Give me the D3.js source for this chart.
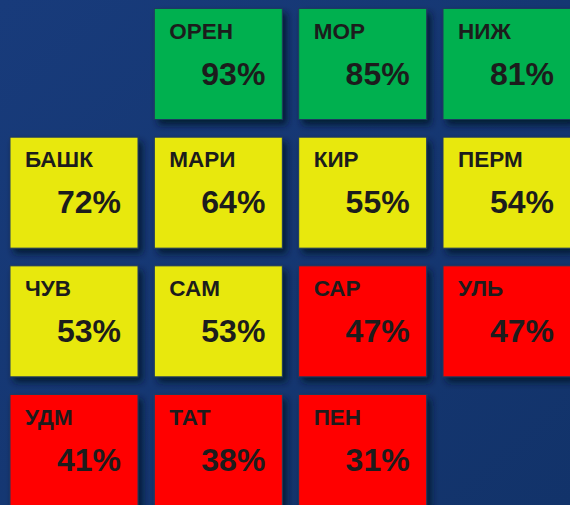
<!DOCTYPE html>
<html>
<head>
<meta charset="utf-8">
<script src="https://cdn.jsdelivr.net/npm/d3@7"></script>
<style>
  html, body { margin: 0; padding: 0; background: #163874; }
  svg { display: block; }
</style>
</head>
<body>
<svg id="chart" width="570" height="505"></svg>
<script>
// Data
const regions = ["ОРЕН", "МОР", "НИЖ", "БАШК", "МАРИ", "КИР", "ПЕРМ", "ЧУВ", "САМ", "САР", "УЛЬ", "УДМ", "ТАТ", "ПЕН"];
const values  = [93, 85, 81, 72, 64, 55, 54, 53, 53, 47, 47, 41, 38, 31];
const cols    = [1, 2, 3, 0, 1, 2, 3, 0, 1, 2, 3, 0, 1, 2];
const rows    = [0, 0, 0, 1, 1, 1, 1, 2, 2, 2, 2, 3, 3, 3];
const thresholds = [50, 80];
const palette = ["#ff0000", "#e8e80a", "#00b050"];

const W = 570, H = 505;
const svg = d3.select("#chart");

const defs = svg.append("defs");
const grad = defs.append("linearGradient").attr("id", "bg")
  .attr("x1", "0%").attr("y1", "0%").attr("x2", "100%").attr("y2", "100%");
grad.append("stop").attr("offset", "0%").attr("stop-color", "#183b7b");
grad.append("stop").attr("offset", "100%").attr("stop-color", "#12336a");

const f = defs.append("filter").attr("id", "shadow")
  .attr("x", "-20%").attr("y", "-20%").attr("width", "150%").attr("height", "150%");
f.append("feDropShadow").attr("dx", 4).attr("dy", 5).attr("stdDeviation", 3.5)
  .attr("flood-color", "#06122a").attr("flood-opacity", 0.85);

svg.append("rect").attr("width", W).attr("height", H).attr("fill", "url(#bg)");

const x = d3.scaleLinear().domain([0, 3]).range([10, 443]);
const y = d3.scaleLinear().domain([0, 3]).range([8.5, 394.5]);
const color = d3.scaleThreshold().domain(thresholds).range(palette);

const tw = 128, th = 111;
const data = regions.map((r, i) => ({ name: r, value: values[i], col: cols[i], row: rows[i] }));

const g = svg.append("g").selectAll("g").data(data).join("g")
  .attr("transform", d => `translate(${x(d.col)},${y(d.row)})`);

g.append("rect")
  .attr("width", tw).attr("height", th)
  .attr("fill", d => color(d.value))
  .attr("stroke", "#1e3a5e").attr("stroke-width", 1)
  .attr("filter", "url(#shadow)");

g.append("text")
  .attr("x", 15).attr("y", 30)
  .attr("font-family", "'Liberation Sans', Arial, sans-serif")
  .attr("font-weight", "bold").attr("font-size", 22.5)
  .attr("fill", "#1c1c1c")
  .text(d => d.name);

g.append("text")
  .attr("x", 111).attr("y", 76)
  .attr("text-anchor", "end")
  .attr("font-family", "'Liberation Sans', Arial, sans-serif")
  .attr("font-weight", "bold").attr("font-size", 32)
  .attr("fill", "#1c1c1c")
  .text(d => d.value + "%");
</script>
</body>
</html>
